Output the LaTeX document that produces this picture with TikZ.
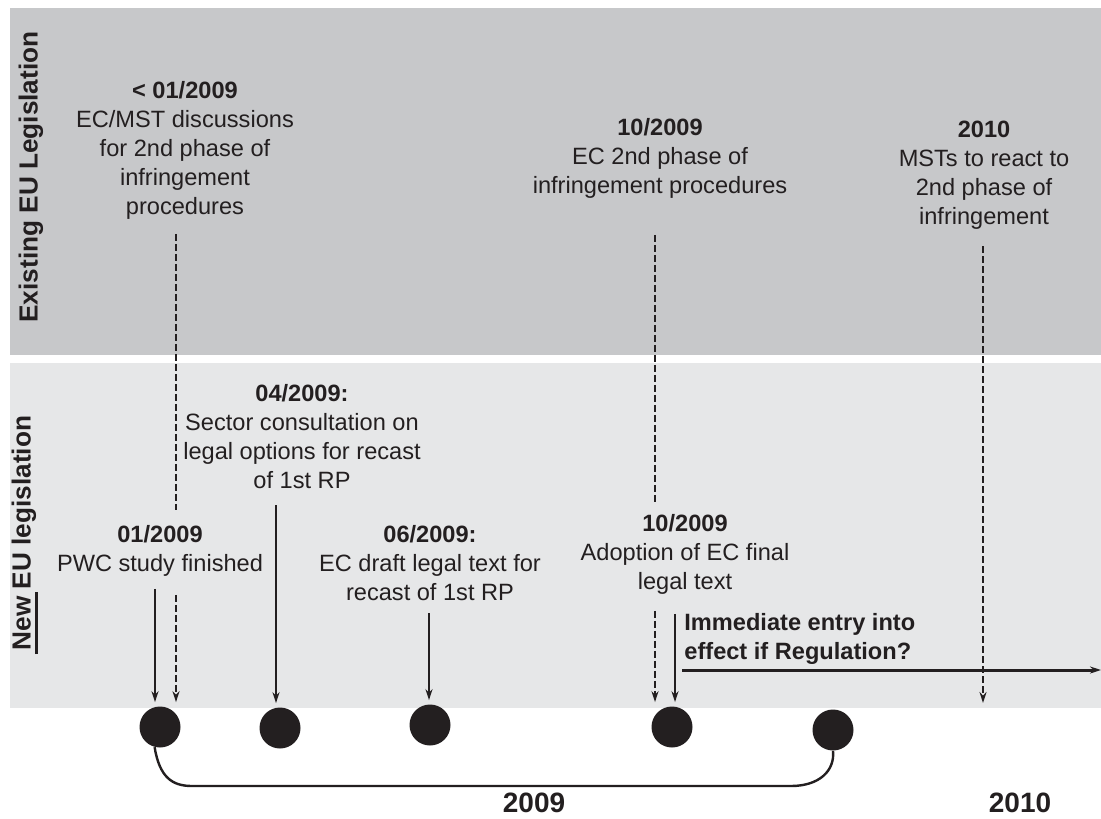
\documentclass[tikz,border=0pt]{standalone}
\usepackage{fontspec}
\setmainfont{Liberation Sans}
\usetikzlibrary{calc, positioning, arrows.meta}
\definecolor{bandtop}{RGB}{199,200,202}
\definecolor{bandlow}{RGB}{230,231,232}
\definecolor{ink}{RGB}{35,31,32}
\newcommand{\ulnew}[1]{\setbox0\hbox{#1}\rlap{\kern-2pt\rule[-3.8pt]{\dimexpr\wd0+4pt\relax}{1.4pt}}\box0\relax}
\tikzstyle{evt}=[inner sep=0pt, align=center, anchor=north, text=ink, font=\fontsize{11.8}{14.5}\selectfont]
\tikzstyle{band}=[rotate=90, text=ink, font=\fontsize{13.1}{15}\selectfont\bfseries]
\tikzstyle{year}=[inner sep=0pt, anchor=base, text=ink, font=\fontsize{14}{15}\selectfont\bfseries]
\tikzstyle{dot}=[circle, fill=ink, inner sep=0pt, minimum size=20.5pt]
\tikzstyle{sol}=[draw=ink, line width=1.2pt, ->]
\tikzstyle{dsh}=[draw=ink, line width=1.1pt, dash pattern=on 3.5pt off 1.5pt]
\tikzset{>={Stealth[length=5.5pt,width=3.5pt]}}

\begin{document}
\begin{tikzpicture}[x=0.5pt, y=-0.5pt]
\useasboundingbox (0,0) rectangle (1101,818);
\fill[bandtop] (10,8) rectangle (1101,355);
\fill[bandlow] (10,363) rectangle (1101,708);

\node[band] (exist) at (31,177) {Existing EU Legislation};
\node[band] (new) at (25,533) {\ulnew{New} EU legislation};

\node[evt] (pre) at (185,81) {\textbf{< 01/2009}\\EC/MST discussions\\for 2nd phase of\\infringement\\procedures};
\node[evt] (infr) at (660,118) {\textbf{10/2009}\\EC 2nd phase of\\infringement procedures};
\node[evt] (react) at (984,121) {\textbf{2010}\\MSTs to react to\\2nd phase of\\infringement};
\node[evt] (consult) at (302,384) {\textbf{04/2009:}\\Sector consultation on\\legal options for recast\\of 1st RP};
\node[evt] (pwc) at (160,525) {\textbf{01/2009}\\PWC study finished};
\node[evt] (draft) at (430,525) {\textbf{06/2009:}\\EC draft legal text for\\recast of 1st RP};
\node[evt] (adopt) at (685,514) {\textbf{10/2009}\\Adoption of EC final\\legal text};
\node[evt, anchor=north west, align=left, font=\fontsize{11.8}{14.5}\selectfont\bfseries] (entry) at (684,613) {Immediate entry into\\effect if Regulation?};

\foreach \i/\x/\y in {1/160/727, 2/280/728, 3/430/725, 4/672/727, 5/833/730}{
\node[dot] (c\i) at (\x,\y) {};
}
\node[year] (y09) at (534,812) {2009};
\node[year] (y10) at (1020,812) {2010};
\coordinate (e2010) at (983,703);
\coordinate (eend) at (1101,670);
\coordinate (bl) at (192,786);
\coordinate (br) at (791,786);

% existing legislation
\draw[dsh, shorten <=7pt, shorten >=7.5pt] ($(pre.south)+(-9,0)$) -- ($(pwc.north)+(16,0)$);
\draw[dsh, ->, shorten <=9pt, shorten >=2pt] ($(pwc.south)+(16,0)$) -- ($(c1.north)+(16,0)$);
\draw[dsh, shorten <=18pt, shorten >=5.5pt] ($(infr.south)+(-5,0)$) -- ($(adopt.north)+(-30,0)$);
\draw[dsh, ->, shorten <=8pt, shorten >=2pt] ($(adopt.south)+(-30,0)$) -- ($(c4.north)+(-17,0)$);
\draw[dsh, ->, shorten <=8pt] ($(react.south)+(-1,0)$) -- (e2010);

% new legislation
\draw[sol, shorten <=6pt, shorten >=2pt] ($(pwc.south)+(-5,0)$) -- ($(c1.north)+(-5,0)$);
\draw[sol, shorten <=8pt, shorten >=2pt] ($(consult.south)+(-26,0)$) -- ($(c2.north)+(-4,0)$);
\draw[sol, shorten <=6pt, shorten >=2pt] ($(draft.south)+(-1,0)$) -- ($(c3.north)+(-1,0)$);
\draw[sol, shorten <=9.5pt, shorten >=2pt] ($(adopt.south)+(-10,0)$) -- ($(c4.north)+(3,0)$);
\draw[sol, line width=1.5pt] ($(entry.south west |- eend)+(-2,0)$) -- (eend);

\draw[ink, line width=1.2pt] (c1.255) .. controls ($(c1.255)+(5,30)$) and ($(bl)+(-20,0)$) .. (bl) -- (br) .. controls ($(br)+(28,0)$) and ($(c5.south)+(2,20)$) .. (c5.south);
\end{tikzpicture}
\end{document}
